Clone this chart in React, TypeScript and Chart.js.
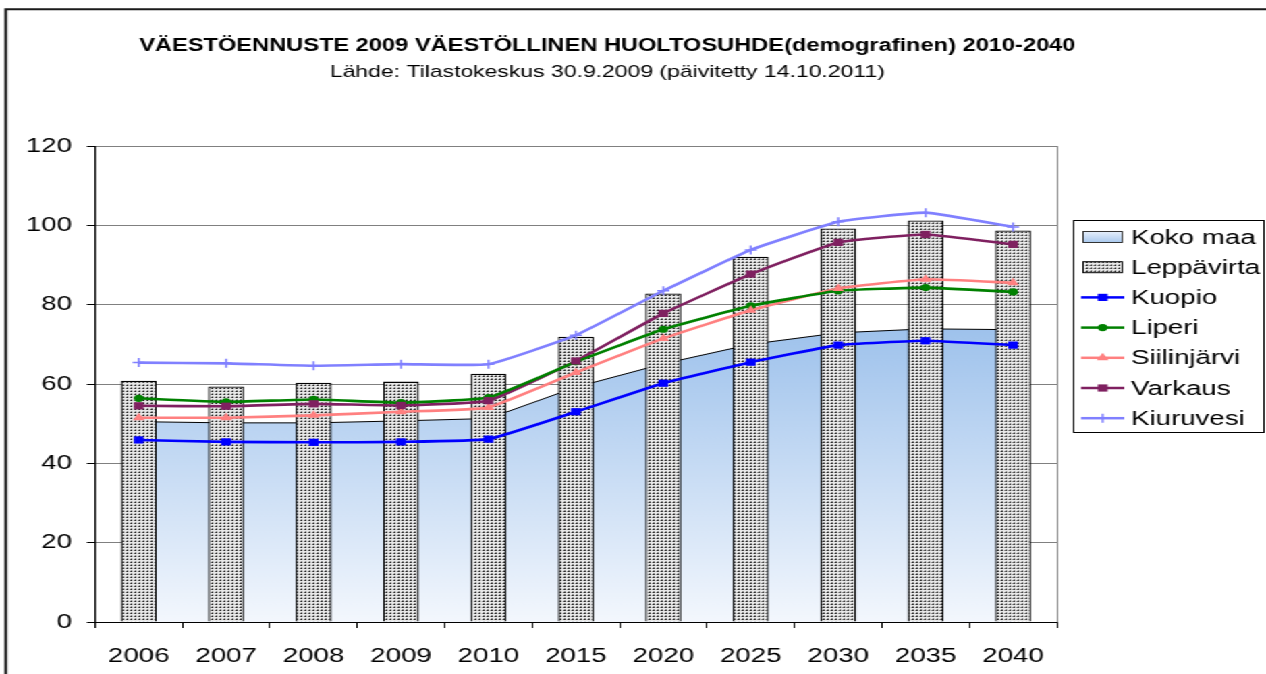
import React, { useEffect, useRef } from 'react';
import { Chart, registerables } from 'chart.js';

Chart.register(...registerables);

// ---- data ----
const years = ['2006', '2007', '2008', '2009', '2010', '2015', '2020', '2025', '2030', '2035', '2040'];
const kokoMaa = [50.5, 50.2, 50.2, 50.7, 51.3, 59.2, 65.1, 70.0, 72.9, 73.9, 73.7];
const leppavirta = [60.8, 59.4, 60.3, 60.6, 62.6, 71.9, 82.8, 92.1, 99.2, 101.2, 98.7];
const kuopio = [45.9, 45.4, 45.3, 45.4, 46.1, 53.0, 60.2, 65.5, 69.8, 70.9, 69.8];
const liperi = [56.4, 55.5, 56.1, 55.3, 56.6, 65.6, 73.8, 79.7, 83.5, 84.3, 83.2];
const siilinjarvi = [51.5, 51.5, 52.1, 53.0, 54.1, 62.9, 71.5, 78.6, 84.1, 86.4, 85.5];
const varkaus = [54.5, 54.4, 55.0, 54.6, 55.8, 65.8, 77.8, 87.7, 95.7, 97.7, 95.2];
const kiuruvesi = [65.4, 65.2, 64.6, 65.0, 65.0, 72.3, 83.5, 93.8, 100.9, 103.2, 99.6];
const yMin = 0;
const yMax = 120;
const yStep = 20;

const titleText = 'VÄESTÖENNUSTE 2009 VÄESTÖLLINEN HUOLTOSUHDE(demografinen) 2010-2040';
const subtitleText = 'Lähde: Tilastokeskus 30.9.2009 (päivitetty 14.10.2011)';

const seriesNames = ['Koko maa', 'Leppävirta', 'Kuopio', 'Liperi', 'Siilinjärvi', 'Varkaus', 'Kiuruvesi'];

// ---- layout constants ----
const SX = 1.35; // horizontal stretch of the reference
const W = Math.round(1266 / SX);
const H = 674;
const FONT = 'Arial, "Liberation Sans", sans-serif';

function makePattern(): CanvasPattern | string {
  const c = document.createElement('canvas');
  c.width = 3;
  c.height = 3;
  const x = c.getContext('2d');
  if (!x) return '#c0c0c0';
  x.fillStyle = '#e8e8e8';
  x.fillRect(0, 0, 3, 3);
  x.fillStyle = '#808080';
  x.fillRect(0, 1, 1, 1);
  x.fillRect(1, 0, 1, 1);
  x.fillStyle = '#151515';
  x.fillRect(1, 1, 1, 1);
  const p = x.createPattern(c, 'repeat');
  return p || '#c0c0c0';
}

type MarkerKind = 'rect' | 'circle' | 'triangle' | 'cross' | 'none';

function drawMarker(ctx: CanvasRenderingContext2D, kind: MarkerKind, x: number, y: number, color: string) {
  ctx.save();
  ctx.fillStyle = color;
  ctx.strokeStyle = color;
  if (kind === 'rect') {
    ctx.fillRect(x - 3.6, y - 3.6, 7.2, 7.2);
  } else if (kind === 'circle') {
    ctx.beginPath();
    ctx.arc(x, y, 3.6, 0, Math.PI * 2);
    ctx.fill();
  } else if (kind === 'triangle') {
    const r = 5;
    ctx.beginPath();
    ctx.moveTo(x, y - r);
    ctx.lineTo(x + r * 0.866, y + r * 0.5);
    ctx.lineTo(x - r * 0.866, y + r * 0.5);
    ctx.closePath();
    ctx.fill();
  } else if (kind === 'cross') {
    ctx.lineWidth = 1.5;
    ctx.beginPath();
    ctx.moveTo(x - 4.5, y);
    ctx.lineTo(x + 4.5, y);
    ctx.moveTo(x, y - 4.5);
    ctx.lineTo(x, y + 4.5);
    ctx.stroke();
  }
  ctx.restore();
}

export default function App() {
  const ref = useRef<HTMLCanvasElement | null>(null);

  useEffect(() => {
    const canvas = ref.current;
    if (!canvas) return;
    const pattern = makePattern();

    const lineSeries = [
      { label: seriesNames[2], data: kuopio, color: '#0000ff', marker: 'rect' as MarkerKind },
      { label: seriesNames[3], data: liperi, color: '#008000', marker: 'circle' as MarkerKind },
      { label: seriesNames[4], data: siilinjarvi, color: '#ff8080', marker: 'triangle' as MarkerKind },
      { label: seriesNames[5], data: varkaus, color: '#7f2060', marker: 'rect' as MarkerKind },
      { label: seriesNames[6], data: kiuruvesi, color: '#8080ff', marker: 'cross' as MarkerKind },
    ];

    const overlay = {
      id: 'overlay',
      afterDraw(chart: any) {
        const ctx: CanvasRenderingContext2D = chart.ctx;
        const area = chart.chartArea;
        ctx.save();
        // outer frame
        ctx.strokeStyle = '#1a1a1a';
        ctx.lineWidth = 2;
        ctx.beginPath();
        ctx.moveTo(4.3, H);
        ctx.lineTo(4.3, 9.3);
        ctx.lineTo(W, 9.3);
        ctx.stroke();

        // plot area right border
        ctx.strokeStyle = '#808080';
        ctx.lineWidth = 1;
        ctx.beginPath();
        ctx.moveTo(area.right + 0.5, area.top);
        ctx.lineTo(area.right + 0.5, area.bottom);
        ctx.stroke();

        // titles
        ctx.fillStyle = '#000';
        ctx.textAlign = 'center';
        ctx.textBaseline = 'middle';
        ctx.font = `bold 17.5px ${FONT}`;
        ctx.fillText(titleText, 450, 46);
        ctx.font = `17px ${FONT}`;
        ctx.fillText(subtitleText, 450, 72);

        // legend
        const bx = 795.5;
        const by = 220.5;
        const bw = W - 1.5 - bx;
        const bh = 212;
        ctx.fillStyle = '#ffffff';
        ctx.fillRect(bx, by, bw, bh);
        ctx.strokeStyle = '#000';
        ctx.lineWidth = 1;
        ctx.strokeRect(bx, by, bw, bh);

        const sx0 = 802;
        const sx1 = 832;
        const tx = 838;
        const rowY = (i: number) => 237 + i * 30.2;
        ctx.font = `20.5px ${FONT}`;
        ctx.textAlign = 'left';
        ctx.textBaseline = 'middle';
        for (let i = 0; i < seriesNames.length; i++) {
          const y = rowY(i);
          if (i === 0) {
            const g = ctx.createLinearGradient(0, y - 5.5, 0, y + 5.5);
            g.addColorStop(0, '#e6effb');
            g.addColorStop(1, '#a9c9ee');
            ctx.fillStyle = g;
            ctx.fillRect(sx0, y - 5.5, sx1 - sx0, 11);
            ctx.strokeStyle = '#333';
            ctx.lineWidth = 1;
            ctx.strokeRect(sx0 + 0.5, y - 5.5, sx1 - sx0 - 1, 11);
          } else if (i === 1) {
            ctx.fillStyle = pattern as any;
            ctx.fillRect(sx0, y - 5.5, sx1 - sx0, 11);
            ctx.strokeStyle = '#000';
            ctx.lineWidth = 1;
            ctx.strokeRect(sx0 + 0.5, y - 5.5, sx1 - sx0 - 1, 11);
          } else {
            const s = lineSeries[i - 2];
            ctx.strokeStyle = s.color;
            ctx.lineWidth = 2.5;
            ctx.beginPath();
            ctx.moveTo(sx0 - 1, y);
            ctx.lineTo(sx1 + 1, y);
            ctx.stroke();
            drawMarker(ctx, s.marker, (sx0 + sx1) / 2, y, s.color);
          }
          ctx.fillStyle = '#000';
          ctx.fillText(seriesNames[i], tx, y + 1);
        }
        ctx.restore();
      },
    };

    const markerPlugin = {
      id: 'markers',
      afterDatasetsDraw(chart: any) {
        const ctx: CanvasRenderingContext2D = chart.ctx;
        lineSeries.forEach((s, k) => {
          const meta = chart.getDatasetMeta(2 + k);
          meta.data.forEach((pt: any) => drawMarker(ctx, s.marker, pt.x, pt.y, s.color));
        });
      },
    };

    const chart = new Chart(canvas, {
      data: {
        labels: years,
        datasets: [
          {
            type: 'line',
            label: seriesNames[0],
            data: kokoMaa,
            order: 3,
            fill: 'origin',
            borderColor: '#000',
            borderWidth: 1,
            pointRadius: 0,
            tension: 0,
            backgroundColor: (c: any) => {
              const ch = c.chart;
              const sy = ch.scales && ch.scales.y;
              if (!ch.chartArea || !sy) return '#c5daf3';
              const g = ch.ctx.createLinearGradient(0, sy.getPixelForValue(74), 0, sy.getPixelForValue(0));
              g.addColorStop(0, '#9ec2ec');
              g.addColorStop(1, '#f3f7fd');
              return g;
            },
          } as any,
          {
            type: 'bar',
            label: seriesNames[1],
            data: leppavirta,
            order: 2,
            backgroundColor: pattern as any,
            borderColor: '#000',
            borderWidth: 1.3,
            barPercentage: 0.41,
            categoryPercentage: 1,
          } as any,
          ...lineSeries.map(
            (s) =>
              ({
                type: 'line',
                label: s.label,
                data: s.data,
                order: 1,
                borderColor: s.color,
                borderWidth: 2.6,
                pointRadius: 0,
                fill: false,
                tension: 0.12,
              } as any)
          ),
        ],
      },
      options: {
        responsive: false,
        animation: false,
        devicePixelRatio: 1,
        layout: { padding: { left: 0, right: W - 783, top: 146, bottom: 0 } },
        plugins: {
          legend: { display: false },
          title: { display: false },
          tooltip: { enabled: false },
        },
        scales: {
          x: {
            type: 'category',
            offset: true,
            grid: {
              offset: true,
              drawOnChartArea: false,
              drawTicks: true,
              tickLength: 6,
              tickColor: '#000',
              color: '#000',
            },
            border: { color: '#000', width: 1 },
            ticks: {
              color: '#000',
              font: { family: FONT, size: 20.5 },
              padding: 16,
              maxRotation: 0,
              autoSkip: false,
            },
            afterFit: (s: any) => {
              s.height = 52;
            },
          },
          y: {
            min: yMin,
            max: yMax,
            grid: {
              color: '#808080',
              lineWidth: 1,
              drawTicks: true,
              tickLength: 6,
              tickColor: '#000',
            },
            border: { color: '#000', width: 1 },
            ticks: {
              stepSize: yStep,
              color: '#000',
              font: { family: FONT, size: 20.5 },
              padding: 11,
            },
            afterFit: (s: any) => {
              s.width = 70.4;
            },
          },
        },
      },
      plugins: [markerPlugin, overlay],
    } as any);

    return () => chart.destroy();
  }, []);

  return (
    <div
      style={{
        position: 'fixed',
        left: 0,
        top: 0,
        width: W,
        height: H,
        transform: `scaleX(${1266 / W})`,
        transformOrigin: '0 0',
        background: '#fff',
      }}
    >
      <canvas ref={ref} width={W} height={H} style={{ display: 'block' }} />
    </div>
  );
}
